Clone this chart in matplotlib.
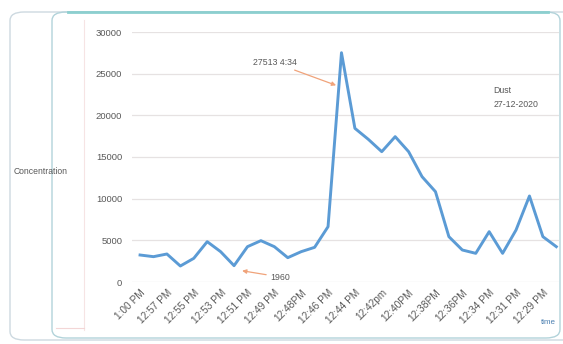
import numpy as np
import matplotlib
matplotlib.use("Agg")
import matplotlib.pyplot as plt
from matplotlib.patches import FancyBboxPatch
from matplotlib.lines import Line2D

# concentration readings, newest first (1:00 PM back to ~12:28 PM)
concentration = [3240, 3040, 3360, 1920, 2840, 4840, 3640, 1960, 4240, 4960,
                 4240, 2920, 3640, 4160, 6640, 27513, 18440, 17120, 15640, 17440,
                 15640, 12640, 10840, 5440, 3840, 3440, 6040, 3440, 6240, 10320,
                 5440, 4240]
tick_labels = ["1:00 PM", "12:57 PM", "12:55 PM", "12:53 PM", "12:51 PM",
               "12:49 PM", "12:48PM", "12:46 PM", "12:44 PM", "12:42pm",
               "12:40PM", "12:38PM", "12:36PM", "12:34 PM", "12:31 PM", "12:29 PM"]
y_ticks = [0, 5000, 10000, 15000, 20000, 25000, 30000]

plt.rcParams["font.family"] = ["Liberation Sans", "DejaVu Sans"]
txt = "#595959"

W, H = 563, 344
fig = plt.figure(figsize=(W / 100, H / 100), dpi=100)
fig.patch.set_facecolor("white")

# decorative frames (excel-ish rounded boxes)
def fx(px): return px / W
def fy(py): return 1 - py / H

outer = FancyBboxPatch((fx(10), fy(340)), fx(600) - fx(10), fy(12) - fy(340),
                       boxstyle="round,pad=0,rounding_size=0.025",
                       transform=fig.transFigure, fill=False,
                       edgecolor="#cdd9e0", lw=1.0, zorder=0)
inner = FancyBboxPatch((fx(52), fy(338)), fx(560) - fx(52), fy(12) - fy(338),
                       boxstyle="round,pad=0,rounding_size=0.025",
                       transform=fig.transFigure, fill=False,
                       edgecolor="#b2d3da", lw=1.0, zorder=0)
fig.patches.extend([outer, inner])
fig.lines.append(Line2D([fx(68), fx(548)], [fy(12), fy(12)], transform=fig.transFigure,
                        color="#8ccfcf", lw=2.0))
fig.lines.append(Line2D([fx(84), fx(84)], [fy(20), fy(330)], transform=fig.transFigure,
                        color="#f6e4e4", lw=0.8))
fig.lines.append(Line2D([fx(56), fx(84)], [fy(328), fy(328)], transform=fig.transFigure,
                        color="#f3d6d6", lw=0.8))

ax = fig.add_axes([fx(132), fy(282), fx(559) - fx(132), fy(32) - fy(282)])
ax.set_facecolor("none")

x = np.arange(len(concentration))
ax.plot(x, concentration, color="#5b9bd5", lw=2.1, solid_joinstyle="round")

ax.set_xlim(-0.6, 31.2)
ax.set_ylim(0, 30000)
ax.set_yticks(y_ticks)
ax.set_yticklabels([str(v) for v in y_ticks])
ax.yaxis.grid(True, color="#e6e2e2", lw=0.9)
ax.set_axisbelow(True)
ax.set_xticks(x[::2])
ax.set_xticklabels(tick_labels, rotation=45, ha="right", va="top",
                   rotation_mode="anchor")
ax.tick_params(axis="both", length=0, colors=txt)
ax.tick_params(axis="y", pad=7, labelsize=6.8)
ax.tick_params(axis="x", pad=4, labelsize=7.3)
for s in ax.spines.values():
    s.set_visible(False)

ax.annotate("27513 4:34", xy=(14.6, 23600), xytext=(8.4, 26300),
            fontsize=6.3, color=txt, va="center",
            arrowprops=dict(arrowstyle="-|>", color="#f0a37a", lw=0.9,
                            mutation_scale=6, shrinkA=0, shrinkB=0))
ax.annotate("1960", xy=(7.6, 1350), xytext=(9.7, 600),
            fontsize=6.3, color=txt, va="center",
            arrowprops=dict(arrowstyle="-|>", color="#f0a37a", lw=0.9,
                            mutation_scale=6, shrinkA=1, shrinkB=0))
ax.text(26.3, 23000, "Dust", fontsize=6.3, color=txt, va="center")
ax.text(26.3, 21300, "27-12-2020", fontsize=6.3, color=txt, va="center")

fig.text(fx(41), fy(172), "Concentration", fontsize=6.2, color=txt,
         ha="center", va="center")
fig.text(fx(548), fy(323), "time", fontsize=5.8, color="#4a7fb0",
         ha="center", va="center")

fig.savefig("out.png", dpi=100)
